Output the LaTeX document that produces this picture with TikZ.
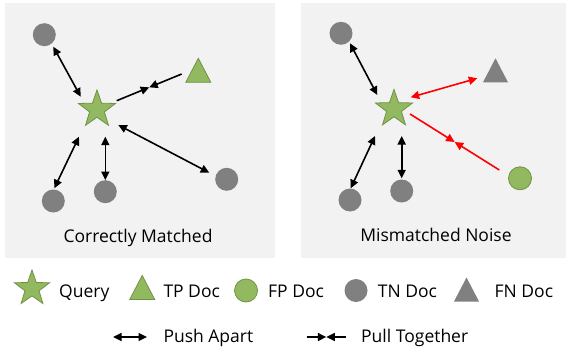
\documentclass[tikz,border=0pt]{standalone}
\usepackage{fontspec}
\setmainfont{Open Sans}
\usetikzlibrary{shapes.geometric,arrows.meta,calc}
\definecolor{bgc}{HTML}{F2F2F2}
\definecolor{gfill}{RGB}{146,185,95}
\definecolor{gdraw}{RGB}{112,146,70}
\definecolor{grayc}{HTML}{808080}
\definecolor{redc}{HTML}{FF0000}
\begin{document}
\begin{tikzpicture}[x=1pt,y=-1pt,
  panel/.style={fill=bgc,draw=none},
  qstar/.style={star,star points=5,star point ratio=2.5,fill=gfill,draw=gdraw,line width=0.8pt,inner sep=0pt,minimum size=39pt},
  tndoc/.style={circle,fill=grayc,inner sep=0pt,minimum size=23pt},
  fpdoc/.style={circle,fill=gfill,draw=gdraw,line width=0.8pt,inner sep=0pt,minimum size=23pt},
  tpdoc/.style={fill=gfill,draw=gdraw,line width=0.8pt},
  fndoc/.style={fill=grayc},
  tri/.pic={\path[pic actions] (0,-12) -- (12.5,12) -- (-12.5,12) -- cycle;},
  lbl/.style={font=\fontsize{17.5}{20}\selectfont,inner sep=0pt},
  pa/.style={line width=1.6pt,{Triangle[length=8.5pt,width=8pt]}-{Triangle[length=8.5pt,width=8pt]}},
  pt/.style={line width=1.6pt,-{Triangle[length=8.5pt,width=8pt]}}
]
\useasboundingbox (0,0) rectangle (569,350);
% panels
\fill[panel] (5,3) rectangle (275,258);
\fill[panel] (301,3) rectangle (566,258);

% ---- left panel ----
\node[qstar] (s1) at (97,109.5) {};
\coordinate (tp) at (198.3,70.3);
\pic[tpdoc] at (tp) {tri};
\node[tndoc] (tn1a) at (44.3,34.7) {};
\node[tndoc] (tn1b) at (53.3,201) {};
\node[tndoc] (tn1c) at (105.3,191.7) {};
\node[tndoc] (tn1d) at (226.7,179.3) {};

\draw[pa] ($(tn1a)+(9,12)$) -- ($(s1)+(-16.3,-12.8)$);
\draw[pa] ($(s1)+(-18,27.2)$) -- ($(tn1b)+(1,-12.7)$);
\draw[pa] ($(s1)+(8.3,27.2)$) -- ($(tn1c)+(0,-11.7)$);
\draw[pa] ($(s1)+(21.3,15.5)$) -- ($(tn1d)+(-17.4,-6.6)$);
\coordinate (a1) at ($(s1)+(19.7,-8.8)$);
\coordinate (b1) at ($(tp)+(-16.6,3.7)$);
\coordinate (m1) at ($(a1)!0.5!(b1)$);
\draw[pt] (a1) -- (m1);
\draw[pt] (b1) -- (m1);

\node[lbl,anchor=base] (t1) at (138,242) {Correctly Matched};

% ---- right panel ----
\node[qstar] (s2) at (394,109) {};
\coordinate (fn) at (495.5,70.3);
\pic[fndoc] at (fn) {tri};
\node[tndoc] (tn2a) at (341,33.3) {};
\node[tndoc] (tn2b) at (350,200) {};
\node[tndoc] (tn2c) at (401.7,191) {};
\node[fpdoc] (fp) at (520,178.3) {};

\draw[pa] ($(tn2a)+(9,10)$) -- ($(s2)+(-16.7,-14)$);
\draw[pa] ($(s2)+(-19,27)$) -- ($(tn2b)+(0.7,-11.7)$);
\draw[pa] ($(s2)+(7.7,27)$) -- ($(tn2c)+(0,-12.7)$);
\draw[pa,redc] ($(s2)+(16.7,-11.7)$) -- ($(fn)+(-18.2,8)$);
\coordinate (a2) at ($(s2)+(16,5)$);
\coordinate (b2) at ($(fp)+(-20.7,-8.3)$);
\coordinate (m2) at ($(a2)!0.5!(b2)$);
\draw[pt,redc] (a2) -- (m2);
\draw[pt,redc] (b2) -- (m2);

\node[lbl,anchor=base] (t2) at (436,241) {Mismatched Noise};

% ---- legend ----
\node[qstar,minimum size=37pt] (lq) at (32,288.5) {};
\node[lbl,anchor=base west] (lqt) at (59,297.7) {Query};
\coordinate (ltp) at (142.2,287.5);
\pic[tpdoc] at (ltp) {tri};
\node[lbl,anchor=base west] (ltpt) at (163.3,297.7) {TP Doc};
\node[fpdoc] (lfp) at (246,290.5) {};
\node[lbl,anchor=base west] (lfpt) at (268,297.7) {FP Doc};
\node[tndoc] (ltn) at (356,290.5) {};
\node[lbl,anchor=base west] (ltnt) at (377.7,297.7) {TN Doc};
\coordinate (lfn) at (466.5,289.5);
\pic[fndoc] at (lfn) {tri};
\node[lbl,anchor=base west] (lfnt) at (494.5,297.7) {FN Doc};

\coordinate (pa1) at (113,337);
\coordinate (pa2) at (147,337);
\draw[pa] (pa1) -- (pa2);
\node[lbl,anchor=base west] (lpa) at (163.3,342.5) {Push Apart};
\coordinate (pt1) at (306.6,337);
\coordinate (pt2) at (346,337);
\coordinate (ptm) at ($(pt1)!0.5!(pt2)$);
\draw[pt] (pt1) -- (ptm);
\draw[pt] (pt2) -- (ptm);
\node[lbl,anchor=base west] (lpt) at (361,342.5) {Pull Together};
\end{tikzpicture}
\end{document}
